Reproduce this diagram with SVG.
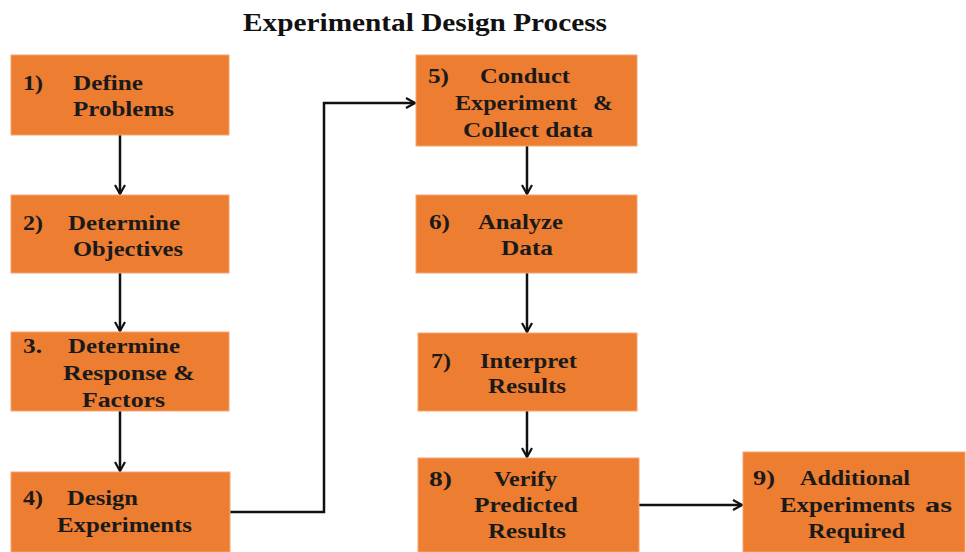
<svg xmlns="http://www.w3.org/2000/svg" width="966" height="552" viewBox="0 0 966 552">
<defs>
<style>
.box{fill:#ED7D31;stroke:#F4A673;stroke-width:1}
.t{font-family:"Liberation Serif","Times New Roman",serif;font-weight:bold;font-size:21px;fill:#1a1a1a}
.title{font-family:"Liberation Serif","Times New Roman",serif;font-weight:bold;font-size:25px;fill:#111}
.c{fill:none;stroke:#111;stroke-width:2.5}
</style>
<marker id="ah" viewBox="0 0 12 12" refX="11" refY="6" markerWidth="12" markerHeight="12" markerUnits="userSpaceOnUse" orient="auto">
<path d="M2,1 L11,6 L2,11" fill="none" stroke="#111" stroke-width="2.2"/>
</marker>
</defs>
<rect width="966" height="552" fill="#fff"/>
<text class="title" x="243" y="31" textLength="364" lengthAdjust="spacingAndGlyphs">Experimental Design Process</text>

<g id="connectors">
<line class="c" x1="120" y1="135" x2="120" y2="194" marker-end="url(#ah)"/>
<line class="c" x1="120" y1="273" x2="120" y2="331" marker-end="url(#ah)"/>
<line class="c" x1="120" y1="411" x2="120" y2="471" marker-end="url(#ah)"/>
<line class="c" x1="527" y1="146" x2="527" y2="194" marker-end="url(#ah)"/>
<line class="c" x1="527" y1="273" x2="527" y2="332" marker-end="url(#ah)"/>
<line class="c" x1="527" y1="411" x2="527" y2="457" marker-end="url(#ah)"/>
<polyline class="c" points="230,512 324,512 324,103 415,103" marker-end="url(#ah)"/>
<line class="c" x1="639" y1="505" x2="742" y2="505" marker-end="url(#ah)"/>
</g>

<g id="n1">
<rect class="box" x="11" y="55" width="218" height="80"/>
<text class="t" x="23" y="90" textLength="20" lengthAdjust="spacingAndGlyphs">1)</text>
<text class="t" x="73" y="90" textLength="70" lengthAdjust="spacingAndGlyphs">Define</text>
<text class="t" x="73" y="116" textLength="101" lengthAdjust="spacingAndGlyphs">Problems</text>
</g>
<g id="n2">
<rect class="box" x="11" y="195" width="218" height="78"/>
<text class="t" x="23" y="230" textLength="20" lengthAdjust="spacingAndGlyphs">2)</text>
<text class="t" x="68" y="230" textLength="112" lengthAdjust="spacingAndGlyphs">Determine</text>
<text class="t" x="73" y="256" textLength="110" lengthAdjust="spacingAndGlyphs">Objectives</text>
</g>
<g id="n3">
<rect class="box" x="11" y="332" width="218" height="79"/>
<text class="t" x="23" y="353" textLength="19" lengthAdjust="spacingAndGlyphs">3.</text>
<text class="t" x="68" y="353" textLength="112" lengthAdjust="spacingAndGlyphs">Determine</text>
<text class="t" x="63" y="380" textLength="132" lengthAdjust="spacingAndGlyphs">Response &amp;</text>
<text class="t" x="82" y="407" textLength="83" lengthAdjust="spacingAndGlyphs">Factors</text>
</g>
<g id="n4">
<rect class="box" x="11" y="472" width="219" height="80"/>
<text class="t" x="23" y="505" textLength="20" lengthAdjust="spacingAndGlyphs">4)</text>
<text class="t" x="67" y="505" textLength="71" lengthAdjust="spacingAndGlyphs">Design</text>
<text class="t" x="57" y="532" textLength="135" lengthAdjust="spacingAndGlyphs">Experiments</text>
</g>
<g id="n5">
<rect class="box" x="416" y="55" width="221" height="91"/>
<text class="t" x="428" y="83" textLength="21" lengthAdjust="spacingAndGlyphs">5)</text>
<text class="t" x="480" y="83" textLength="90" lengthAdjust="spacingAndGlyphs">Conduct</text>
<text class="t" x="455" y="110" textLength="122" lengthAdjust="spacingAndGlyphs">Experiment</text>
<text class="t" x="593" y="110" textLength="20" lengthAdjust="spacingAndGlyphs">&amp;</text>
<text class="t" x="463" y="137" textLength="130" lengthAdjust="spacingAndGlyphs">Collect data</text>
</g>
<g id="n6">
<rect class="box" x="416" y="195" width="221" height="78"/>
<text class="t" x="429" y="229" textLength="21" lengthAdjust="spacingAndGlyphs">6)</text>
<text class="t" x="478" y="229" textLength="85" lengthAdjust="spacingAndGlyphs">Analyze</text>
<text class="t" x="501" y="255" textLength="52" lengthAdjust="spacingAndGlyphs">Data</text>
</g>
<g id="n7">
<rect class="box" x="418" y="333" width="219" height="78"/>
<text class="t" x="431" y="368" textLength="20" lengthAdjust="spacingAndGlyphs">7)</text>
<text class="t" x="480" y="368" textLength="97" lengthAdjust="spacingAndGlyphs">Interpret</text>
<text class="t" x="488" y="393" textLength="78" lengthAdjust="spacingAndGlyphs">Results</text>
</g>
<g id="n8">
<rect class="box" x="418" y="458" width="221" height="94"/>
<text class="t" x="429" y="486" textLength="23" lengthAdjust="spacingAndGlyphs">8)</text>
<text class="t" x="494" y="486" textLength="63" lengthAdjust="spacingAndGlyphs">Verify</text>
<text class="t" x="474" y="512" textLength="104" lengthAdjust="spacingAndGlyphs">Predicted</text>
<text class="t" x="488" y="538" textLength="78" lengthAdjust="spacingAndGlyphs">Results</text>
</g>
<g id="n9">
<rect class="box" x="743" y="452" width="222" height="100"/>
<text class="t" x="753" y="485" textLength="22" lengthAdjust="spacingAndGlyphs">9)</text>
<text class="t" x="800" y="485" textLength="110" lengthAdjust="spacingAndGlyphs">Additional</text>
<text class="t" x="780" y="512" textLength="135" lengthAdjust="spacingAndGlyphs">Experiments</text>
<text class="t" x="925" y="512" textLength="27" lengthAdjust="spacingAndGlyphs">as</text>
<text class="t" x="808" y="538" textLength="97" lengthAdjust="spacingAndGlyphs">Required</text>
</g>
</svg>
